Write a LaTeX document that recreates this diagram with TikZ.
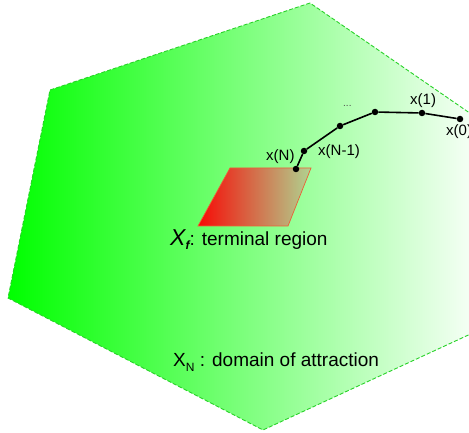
\documentclass[tikz,border=0pt]{standalone}
\usepackage{fontspec}
\setmainfont{Liberation Sans}
\definecolor{bordergreen}{RGB}{40,210,40}
\definecolor{pgreen}{RGB}{0,255,0}
\definecolor{redb}{RGB}{235,95,55}
\definecolor{redr}{RGB}{248,10,5}
\definecolor{redend}{RGB}{175,212,145}
\begin{document}
\begin{tikzpicture}[x=1pt,y=-1pt,
  dot/.style={circle,fill=black,inner sep=0pt,minimum size=6.5pt},
  lbl/.style={font=\fontsize{15}{15}\selectfont,inner sep=0pt,anchor=base west},
  big/.style={font=\fontsize{19}{19}\selectfont,inner sep=0pt,anchor=base west},
  traj/.style={line width=1.6pt,black}]
\useasboundingbox (0,0) rectangle (469,433);
\clip (0,0) rectangle (469,433);
\shade[left color=pgreen,right color=white]
  (310,3) -- (50,90) -- (8,298) -- (263,430) -- (490,325) -- (490,127) -- cycle;
\draw[bordergreen,dash pattern=on 4pt off 2pt,line width=0.9pt]
  (310,3) -- (50,90) -- (8,298) -- (263,430) -- (490,325) -- (490,127) -- cycle;
\shade[left color=redr,right color=redend,draw=redb,line width=0.7pt]
  (230,168) -- (311,168) -- (288,226) -- (198,226) -- cycle;
\node[dot] (pN) at (296,169) {};
\node[dot] (pN1) at (304,151) {};
\node[dot] (p3) at (340,126) {};
\node[dot] (p2) at (375,112) {};
\node[dot] (p1) at (422,113) {};
\node[dot] (p0) at (460,119) {};
\draw[traj] (pN) -- (pN1) -- (p3) -- (p2) -- (p1) -- (p0);
\node[lbl] (lN) at (266,161) {x(N)};
\node[lbl] (lN1) at (318,156) {x(N-1)};
\node[lbl] (l1) at (410,105) {x(1)};
\node[lbl] (l0) at (446,136) {x(0)};
\node[font=\fontsize{10}{10}\selectfont,inner sep=0pt,anchor=base west,text=black!70] (ld) at (343,107) {...};
\node[big] (xf) at (170,246) {{\fontsize{23}{23}\selectfont\itshape X}\raisebox{-0.2em}{\fontsize{12}{12}\selectfont\bfseries\itshape f}: terminal region};
\node[big] (xn) at (173,366) {X\raisebox{-0.3em}{\fontsize{12}{12}\selectfont N} : domain of attraction};
\end{tikzpicture}
\end{document}
